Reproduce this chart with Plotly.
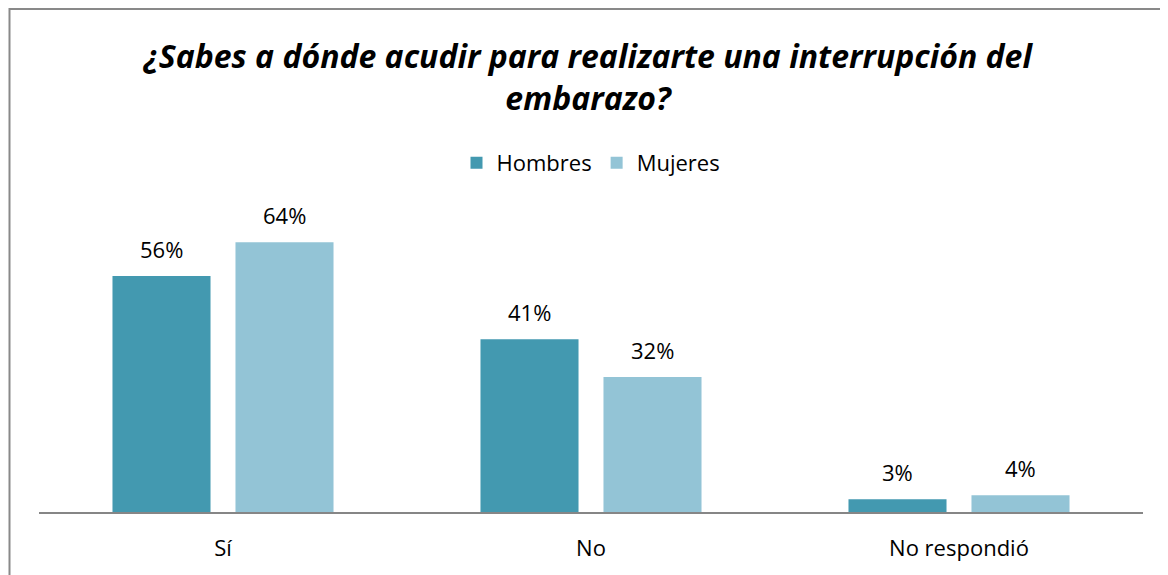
import plotly.graph_objects as go

categories = ["Sí", "No", "No respondió"]
hombres = [56, 41, 3]
mujeres = [64, 32, 4]
series_names = ["Hombres", "Mujeres"]
colors = ["#4399B0", "#93C4D6"]
title_text = "¿Sabes a dónde acudir para realizarte una interrupción del<br>embarazo?"

FONT = "Open Sans"
W, H = 1168, 575
# page body has an 8px margin; compensate so the picture lines up with the window
ML, MT = 31, 192
PW, PH = 1104, 312
MR = W - ML - PW
MB = H - MT - PH

fig = go.Figure()
for name, vals, col in zip(series_names, [hombres, mujeres], colors):
    fig.add_trace(go.Bar(
        name=name, x=categories, y=vals,
        marker=dict(color=col, line=dict(width=0)),
    ))

# value labels above each bar
offsets = [-61.5, 61.5]
for vals, dx in zip([hombres, mujeres], offsets):
    for c, v in zip(categories, vals):
        fig.add_annotation(x=c, y=v, text=f"{v}%", showarrow=False,
                           xshift=dx, yshift=27, yanchor="middle",
                           font=dict(family=FONT, size=22, color="#000000"))

def px_x(p):
    return (p - ML) / PW

def px_y(p):
    return (H - MB - p) / PH

fig.add_shape(type="rect", xref="paper", yref="paper",
              x0=px_x(1.5), x1=px_x(1200), y0=px_y(620), y1=px_y(1),
              line=dict(color="#898989", width=2), fillcolor="rgba(0,0,0,0)", layer="below")

fig.update_layout(
    width=W, height=H,
    margin=dict(l=ML, r=MR, t=MT, b=MB, autoexpand=False),
    paper_bgcolor="white", plot_bgcolor="white",
    barmode="group", bargap=0.3315, bargroupgap=0.203,
    title=dict(text=f"<b><i>{title_text}</i></b>", x=580 / W, xanchor="center",
               y=1 - 60 / H, yanchor="middle",
               font=dict(family=FONT, size=32, color="#000000")),
    legend=dict(orientation="h", x=0.5, xanchor="center", y=px_y(155), yanchor="middle",
                font=dict(family=FONT, size=22, color="#000000"), itemwidth=30,
                traceorder="normal"),
    xaxis=dict(showline=True, linecolor="#868686", linewidth=2, ticks="",
               ticklabelstandoff=16,
               tickfont=dict(family=FONT, size=22, color="#000000"), showgrid=False),
    yaxis=dict(range=[0, PH / 4.216], visible=False, showgrid=False, zeroline=False),
    showlegend=True,
)

fig.write_html("out.html")
